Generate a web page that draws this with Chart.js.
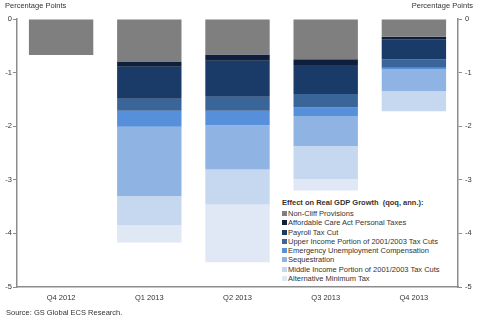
<!DOCTYPE html>
<html lang="en">
<head>
<meta charset="UTF-8">
<title>Fiscal Cliff Effect on Real GDP Growth</title>
<script src="https://cdn.jsdelivr.net/npm/chart.js"></script>
<style>
  body { margin: 0; background: #fff; font-family: "Liberation Sans", Arial, sans-serif; }
  #wrap { position: relative; width: 479px; height: 328px; }
  .unit { position: absolute; top: 1px; font-size: 7.5px; color: #333; }
  #source { position: absolute; left: 6px; top: 308px; font-size: 7.5px; color: #333; }
  #legend { position: absolute; left: 280px; top: 197px; width: 176px; height: 88px; background: #fff; font-size: 7.5px; color: #333; }
  #legend .ttl { font-weight: bold; margin: 1px 0 2px 2px; }
  #legend .row { height: 9.3px; line-height: 9.3px; white-space: nowrap; padding-left: 2px; }
  #legend .sw { display: inline-block; width: 5px; height: 5px; margin-right: 1px; vertical-align: 0px; }
</style>
</head>
<body>
<div id="wrap">
  <canvas id="gdpChart" width="479" height="328"></canvas>
  <div class="unit" style="left:5px">Percentage Points</div>
  <div class="unit" style="right:6px">Percentage Points</div>
  <div id="legend"></div>
  <div id="source">Source: GS Global ECS Research.</div>
</div>
<script>
const quarters = ['Q4 2012', 'Q1 2013', 'Q2 2013', 'Q3 2013', 'Q4 2013'];
const yTicks = [0, -1, -2, -3, -4, -5];

const nonCliff      = [-0.67, -0.80, -0.66, -0.75, -0.33];
const acaTaxes      = [0, -0.09, -0.12, -0.11, -0.05];
const payrollCut    = [0, -0.60, -0.67, -0.54, -0.37];
const upperIncome   = [0, -0.22, -0.26, -0.25, -0.16];
const emergencyUI   = [0, -0.30, -0.27, -0.16, -0.03];
const sequestration = [0, -1.29, -0.83, -0.56, -0.41];
const middleIncome  = [0, -0.55, -0.65, -0.62, -0.37];
const altMinTax     = [0, -0.32, -1.08, -0.21, 0];

const seriesNames = [
    'Non-Cliff Provisions',
    'Affordable Care Act Personal Taxes',
    'Payroll Tax Cut',
    'Upper Income Portion of 2001/2003  Tax Cuts',
    'Emergency Unemployment Compensation',
    'Sequestration',
    'Middle Income Portion of 2001/2003  Tax Cuts',
    'Alternative Minimum Tax'
];
const seriesData = [nonCliff, acaTaxes, payrollCut, upperIncome, emergencyUI, sequestration, middleIncome, altMinTax];
const seriesColors = ['#7f7f7f', '#0e1f3d', '#1a3a68', '#3a6599', '#5690da', '#8fb4e3', '#c5d8f0', '#dfe8f4'];

// legend box sits inside the plot, bottom right
const legendDiv = document.getElementById('legend');
let html = '<div class="ttl">Effect on Real GDP Growth&nbsp; (qoq, ann.):</div>';
seriesNames.forEach((name, i) => {
    html += `<div class="row"><span class="sw" style="background:${seriesColors[i]}"></span>${name}</div>`;
});
legendDiv.innerHTML = html;

const axisColor = '#8c8c8c';
const tickFont = { family: '"Liberation Sans", Arial, sans-serif', size: 7.5 };

const ctx = document.getElementById('gdpChart').getContext('2d');
new Chart(ctx, {
    type: 'bar',
    data: {
        labels: quarters,
        datasets: seriesData.map((d, i) => ({
            label: seriesNames[i],
            data: d,
            backgroundColor: seriesColors[i],
            borderWidth: 0,
            barPercentage: 0.73,
            categoryPercentage: 1.0
        }))
    },
    options: {
        responsive: false,
        animation: false,
        layout: { padding: { top: 19, left: 0, right: 0, bottom: 0 } },
        plugins: { legend: { display: false }, tooltip: { enabled: false } },
        scales: {
            x: {
                stacked: true,
                grid: { display: false, drawTicks: false },
                border: { color: axisColor, width: 1.5 },
                ticks: { color: '#333', font: tickFont, padding: 6 },
                afterFit: s => { s.height = 41; }
            },
            y: {
                stacked: true,
                position: 'left',
                min: -5,
                max: 0,
                afterBuildTicks: s => { s.ticks = yTicks.map(v => ({ value: v })); },
                grid: { drawOnChartArea: false, color: axisColor, tickLength: 4 },
                border: { color: axisColor, width: 1.5 },
                ticks: { color: '#333', font: tickFont, padding: 1 },
                afterFit: s => { s.width = 17; }
            },
            y2: {
                position: 'right',
                min: -5,
                max: 0,
                afterBuildTicks: s => { s.ticks = yTicks.map(v => ({ value: v })); },
                grid: { drawOnChartArea: false, color: axisColor, tickLength: 4 },
                border: { color: axisColor, width: 1.5 },
                ticks: { color: '#333', font: tickFont, padding: 3 },
                afterFit: s => { s.width = 21; }
            }
        }
    }
});
</script>
</body>
</html>
